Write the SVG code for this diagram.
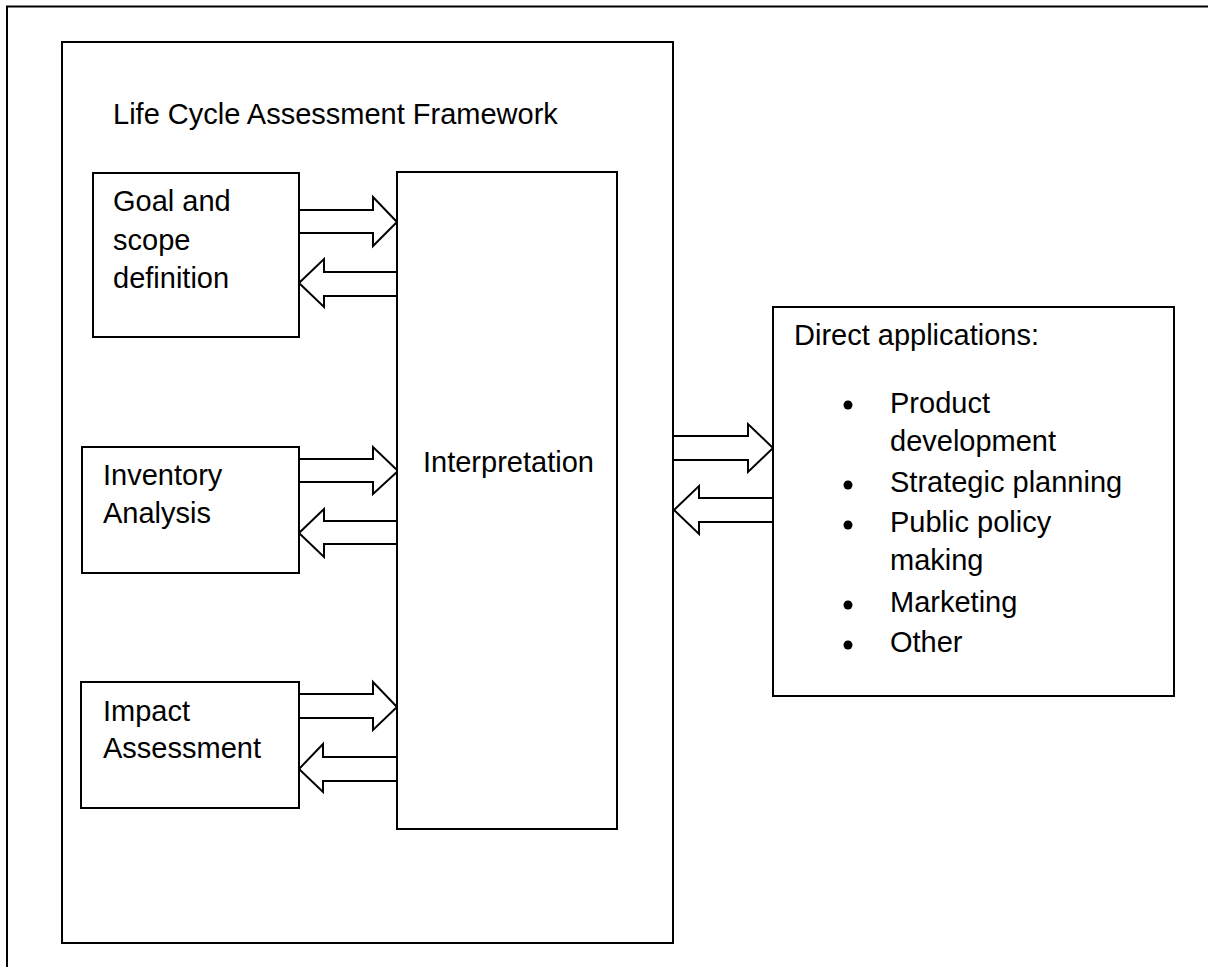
<svg xmlns="http://www.w3.org/2000/svg" width="1208" height="967" viewBox="0 0 1208 967">
<style>
.box{fill:#fff;stroke:#000;stroke-width:2}
.frame{fill:none;stroke:#000;stroke-width:2}
.arr{fill:#fff;stroke:#000;stroke-width:2;stroke-linejoin:miter}
.t{font-family:"Liberation Sans",Arial,sans-serif;font-size:29px;fill:#000}
</style>
<rect width="1208" height="967" fill="#fff"/>
<path class="frame" d="M7,967 V6.5 H1208"/>
<g id="lca-framework">
<rect class="box" x="62" y="42" width="611" height="901"/>
<text class="t" x="113" y="124">Life Cycle Assessment Framework</text>
</g>
<g id="connectors">
<path class="arr" d="M299,210 H373 V197 L397,222 L373,246 V233 H299"/>
<path class="arr" d="M397,272 H324 V259 L299,283 L324,307 V296 H397"/>
<path class="arr" d="M299,459 H373 V447 L398,471 L373,494 V482 H299"/>
<path class="arr" d="M397,521 H324 V509 L299,533 L324,557 V544 H397"/>
<path class="arr" d="M299,694 H373 V682 L397,707 L373,730 V718 H299"/>
<path class="arr" d="M397,757 H323 V744 L299,769 L323,792 V781 H397"/>
<path class="arr" d="M674,436 H748 V424 L773,448 L748,472 V460 H674"/>
<path class="arr" d="M773,498 H699 V486 L674,510 L699,534 V522 H773"/>
</g>
<g id="interpretation">
<rect class="box" x="397" y="172" width="220" height="657"/>
<text class="t" x="423" y="472">Interpretation</text>
</g>
<g id="goal">
<rect class="box" x="93" y="173" width="206" height="164"/>
<text class="t" x="113" y="211">Goal and</text>
<text class="t" x="113" y="250">scope</text>
<text class="t" x="113" y="288">definition</text>
</g>
<g id="inventory">
<rect class="box" x="82" y="447" width="217" height="126"/>
<text class="t" x="103" y="485">Inventory</text>
<text class="t" x="103" y="523">Analysis</text>
</g>
<g id="impact">
<rect class="box" x="81" y="682" width="218" height="126"/>
<text class="t" x="103" y="721">Impact</text>
<text class="t" x="103" y="758">Assessment</text>
</g>
<g id="direct-applications">
<rect class="box" x="773" y="307" width="401" height="389"/>
<text class="t" x="794" y="345">Direct applications:</text>
<g fill="#000">
<circle cx="848" cy="405" r="4.5"/>
<circle cx="848" cy="485" r="4.5"/>
<circle cx="848" cy="525" r="4.5"/>
<circle cx="848" cy="605" r="4.5"/>
<circle cx="848" cy="645" r="4.5"/>
</g>
<text class="t" x="890" y="413">Product</text>
<text class="t" x="890" y="451">development</text>
<text class="t" x="890" y="492">Strategic planning</text>
<text class="t" x="890" y="532">Public policy</text>
<text class="t" x="890" y="570">making</text>
<text class="t" x="890" y="612">Marketing</text>
<text class="t" x="890" y="652">Other</text>
</g>
</svg>
